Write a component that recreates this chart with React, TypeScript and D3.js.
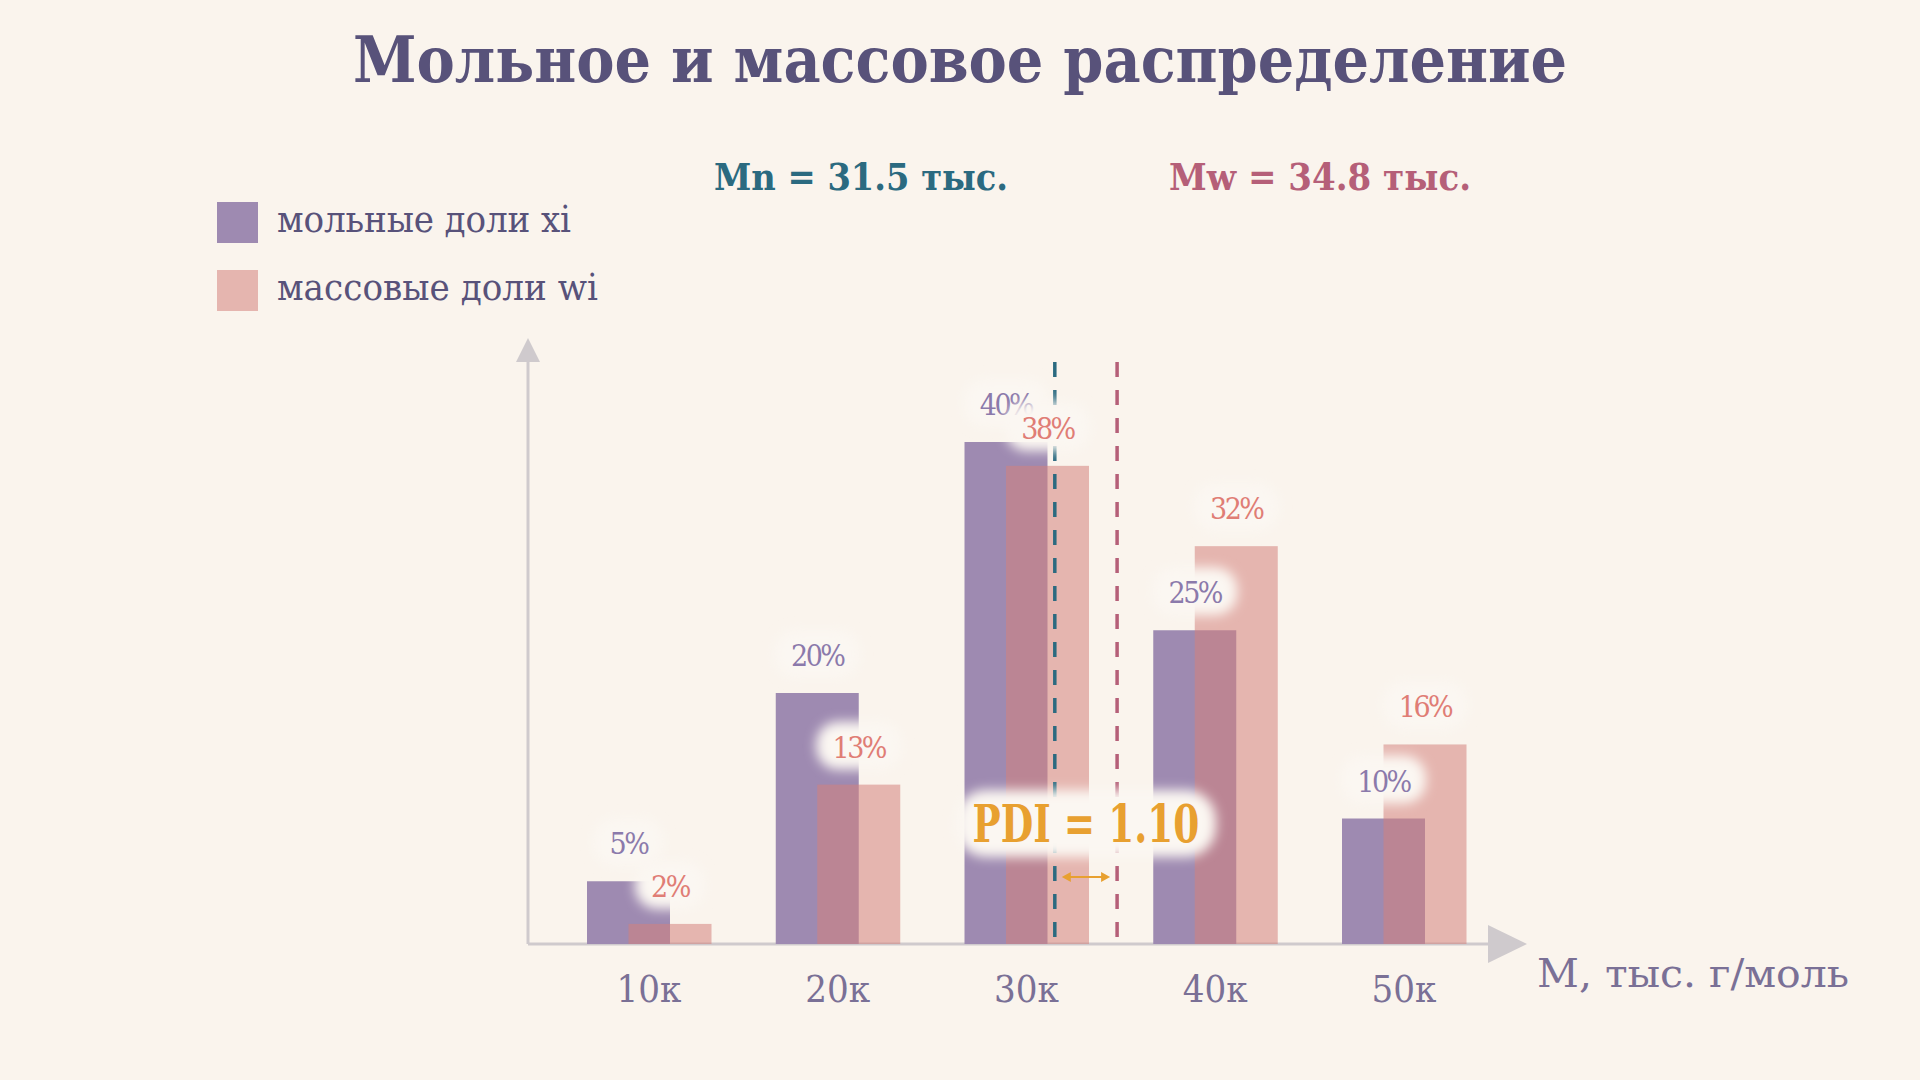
import { useEffect, useRef } from 'react';
import * as d3 from 'd3';

// молекулярные массы фракций, тыс. г/моль
const massK = [10, 20, 30, 40, 50];
const tickLabels = ['10к', '20к', '30к', '40к', '50к'];
// мольные доли xi, %
const molarFractions = [5, 20, 40, 25, 10];
// массовые доли wi, %
const massFractions = [1.6, 12.7, 38.1, 31.7, 15.9];
// средние массы
const averageNames = ['Mn', 'Mw'];
const averageValues = [31.5, 34.8];
const pdiText = 'PDI = 1.10';

const legendLabels = ['мольные доли xi', 'массовые доли wi'];

const SERIF = "'DejaVu Serif Condensed', 'DejaVu Serif', serif";
const SERIF_WIDE = "'DejaVu Serif', serif";

const App: React.FC = () => {
  const svgRef = useRef<SVGSVGElement | null>(null);

  useEffect(() => {
    if (svgRef.current === null) return;
    const width = 1920;
    const height = 1080;
    const baseY = 944;

    const svg = d3.select(svgRef.current).attr('width', width).attr('height', height);
    svg.selectAll('*').remove();

    const defs = svg.append('defs');
    defs
      .append('filter')
      .attr('id', 'halo')
      .attr('x', '-50%')
      .attr('y', '-50%')
      .attr('width', '200%')
      .attr('height', '200%')
      .append('feGaussianBlur')
      .attr('stdDeviation', 6);

    // фон
    svg.append('rect').attr('width', width).attr('height', height).attr('fill', '#faf4ed');

    // шкалы
    const x = d3.scaleLinear().domain([10, 50]).range([649, 1404]);
    const y = d3.scaleLinear().domain([0, 40]).range([baseY, 442]);
    const groupW = 124;
    const barW = 83;
    const shift = 41.5;

    // заголовок
    svg
      .append('text')
      .attr('x', 960)
      .attr('y', 82)
      .attr('text-anchor', 'middle')
      .attr('font-family', SERIF)
      .attr('font-stretch', 'condensed')
      .attr('font-weight', 'bold')
      .attr('font-size', 64)
      .attr('fill', '#58527a')
      .attr('textLength', 1214)
      .attr('lengthAdjust', 'spacingAndGlyphs')
      .text('Мольное и массовое распределение');

    // Mn / Mw подписи
    const avgColors = ['#2b6a80', '#b55f78'];
    const avgCenters = [861, 1320];
    const avgWidths = [294, 302];
    averageNames.forEach((n, i) => {
      svg
        .append('text')
        .attr('x', avgCenters[i])
        .attr('y', 190)
        .attr('text-anchor', 'middle')
        .attr('font-family', SERIF)
        .attr('font-stretch', 'condensed')
        .attr('font-weight', 'bold')
        .attr('font-size', 38)
        .attr('fill', avgColors[i])
        .attr('textLength', avgWidths[i])
        .attr('lengthAdjust', 'spacingAndGlyphs')
        .text(`${n} = ${averageValues[i]} тыс.`);
    });

    // легенда
    const legendColors = ['#9e8ab1', '#e5b5af'];
    const legendWidths = [294, 321];
    legendLabels.forEach((l, i) => {
      const ly = 202 + i * 68;
      svg.append('rect').attr('x', 217).attr('y', ly).attr('width', 41).attr('height', 41).attr('fill', legendColors[i]);
      svg
        .append('text')
        .attr('x', 277)
        .attr('y', ly + 30)
        .attr('font-family', SERIF)
        .attr('font-size', 38)
        .attr('fill', '#58527a')
        .attr('textLength', legendWidths[i])
        .attr('lengthAdjust', 'spacing')
        .text(l);
    });

    // оси
    const axisColor = '#cfcacd';
    svg
      .append('line')
      .attr('x1', 528)
      .attr('x2', 528)
      .attr('y1', baseY)
      .attr('y2', 360)
      .attr('stroke', axisColor)
      .attr('stroke-width', 3);
    svg
      .append('path')
      .attr('d', `M516,362 L528,338 L540,362 Z`)
      .attr('fill', axisColor);
    svg
      .append('line')
      .attr('x1', 528)
      .attr('x2', 1490)
      .attr('y1', baseY)
      .attr('y2', baseY)
      .attr('stroke', axisColor)
      .attr('stroke-width', 3);
    svg
      .append('path')
      .attr('d', `M1488,${baseY - 19} L1527,${baseY} L1488,${baseY + 19} Z`)
      .attr('fill', axisColor);

    // подписи оси X
    svg
      .selectAll('.tick-label')
      .data(massK)
      .enter()
      .append('text')
      .attr('class', 'tick-label')
      .attr('x', (d) => x(d))
      .attr('y', 1002)
      .attr('text-anchor', 'middle')
      .attr('font-family', SERIF)
      .attr('font-size', 38)
      .attr('fill', '#7a7096')
      .text((_, i) => tickLabels[i]);

    svg
      .append('text')
      .attr('x', 1537)
      .attr('y', 987)
      .attr('font-family', SERIF_WIDE)
      .attr('font-size', 40)
      .attr('fill', '#7a7096')
      .attr('textLength', 312)
      .attr('lengthAdjust', 'spacingAndGlyphs')
      .text('M, тыс. г/моль');

    // столбцы
    svg
      .selectAll('.bar-x')
      .data(molarFractions)
      .enter()
      .append('rect')
      .attr('class', 'bar-x')
      .attr('x', (_, i) => x(massK[i]) - groupW / 2)
      .attr('y', (d) => y(d))
      .attr('width', barW)
      .attr('height', (d) => baseY - y(d))
      .attr('fill', '#9e8ab1');

    svg
      .selectAll('.bar-w')
      .data(massFractions)
      .enter()
      .append('rect')
      .attr('class', 'bar-w')
      .attr('x', (_, i) => x(massK[i]) - groupW / 2 + shift)
      .attr('y', (d) => y(d))
      .attr('width', barW)
      .attr('height', (d) => baseY - y(d))
      .attr('fill', '#d4817c')
      .attr('fill-opacity', 0.55);

    // вертикальные линии Mn, Mw
    averageValues.forEach((v, i) => {
      svg
        .append('line')
        .attr('x1', x(v))
        .attr('x2', x(v))
        .attr('y1', 362)
        .attr('y2', baseY)
        .attr('stroke', avgColors[i])
        .attr('stroke-width', 3.5)
        .attr('stroke-dasharray', '15,13');
    });

    // подписи процентов с ореолом
    const addLabel = (cx: number, baseline: number, txt: string, color: string) => {
      const w = txt.length * 15 + 40;
      svg
        .append('rect')
        .attr('x', cx - w / 2)
        .attr('y', baseline - 36)
        .attr('width', w)
        .attr('height', 48)
        .attr('rx', 22)
        .attr('fill', '#fbf7f2')
        .attr('filter', 'url(#halo)');
      svg
        .append('text')
        .attr('x', cx)
        .attr('y', baseline)
        .attr('text-anchor', 'middle')
        .attr('font-family', SERIF)
        .attr('font-stretch', 'condensed')
        .attr('font-size', 30)
        .attr('letter-spacing', -2.5)
        .attr('fill', color)
        .text(txt);
    };

    molarFractions.forEach((d, i) => {
      addLabel(x(massK[i]) - groupW / 2 + barW / 2, y(d) - 27, `${d}%`, '#8b7aab');
    });
    massFractions.forEach((d, i) => {
      addLabel(x(massK[i]) - groupW / 2 + shift + barW / 2, y(d) - 27, `${Math.round(d)}%`, '#e07d75');
    });

    // PDI
    const mid = (x(averageValues[0]) + x(averageValues[1])) / 2;
    svg
      .append('rect')
      .attr('x', mid - 130)
      .attr('y', 790)
      .attr('width', 260)
      .attr('height', 67)
      .attr('rx', 30)
      .attr('fill', '#fbf7f2')
      .attr('filter', 'url(#halo)');
    svg
      .append('text')
      .attr('x', mid)
      .attr('y', 842)
      .attr('text-anchor', 'middle')
      .attr('font-family', SERIF_WIDE)
      .attr('font-weight', 'bold')
      .attr('font-size', 52)
      .attr('fill', '#e8a030')
      .attr('textLength', 227)
      .attr('lengthAdjust', 'spacingAndGlyphs')
      .text(pdiText);

    // двойная стрелка между Mn и Mw
    const ax1 = x(averageValues[0]) + 7;
    const ax2 = x(averageValues[1]) - 7;
    const ay = 877;
    svg
      .append('line')
      .attr('x1', ax1 + 6)
      .attr('x2', ax2 - 6)
      .attr('y1', ay)
      .attr('y2', ay)
      .attr('stroke', '#e8a030')
      .attr('stroke-width', 2);
    svg
      .append('path')
      .attr('d', `M${ax1},${ay} L${ax1 + 9},${ay - 5} L${ax1 + 9},${ay + 5} Z M${ax2},${ay} L${ax2 - 9},${ay - 5} L${ax2 - 9},${ay + 5} Z`)
      .attr('fill', '#e8a030');
  }, []);

  return <svg ref={svgRef} style={{ position: 'absolute', left: 0, top: 0, display: 'block' }}></svg>;
};

export default App;
